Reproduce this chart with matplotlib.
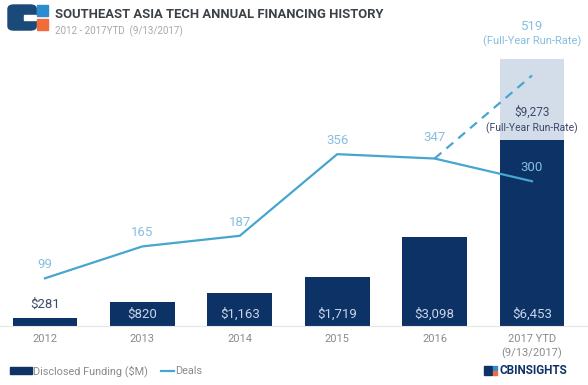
import matplotlib.pyplot as plt
from matplotlib.patches import Rectangle, FancyBboxPatch
from matplotlib.lines import Line2D

plt.rcParams['font.family'] = ['Roboto', 'DejaVu Sans']

years = ['2012', '2013', '2014', '2015', '2016', '2017 YTD\n(9/13/2017)']
funding = [281, 820, 1163, 1719, 3098, 6453]
funding_labels = ['$281', '$820', '$1,163', '$1,719', '$3,098', '$6,453']
deals = [99, 165, 187, 356, 347, 300]
runrate_funding = 9273
runrate_deals = 519

navy = '#0c3266'
light_bar = '#d3dde9'
line_col = '#46a6cf'
deal_txt = '#86bfe0'
tick_col = '#8a8a8a'

fig = plt.figure(figsize=(5.88, 3.85), dpi=100)
ax = fig.add_axes([0, 0.153, 1, 0.730])
ax2 = ax.twinx()

x = list(range(len(years)))
ax.bar(5, runrate_funding, width=0.667, color=light_bar, zorder=1)
ax.bar(x, funding, width=0.667, color=navy, zorder=2)
ax.set_xlim(-0.462, 5.575)
ax.set_ylim(0, 9750)
ax2.set_ylim(0, 582)

for i, (v, lab) in enumerate(zip(funding, funding_labels)):
    if v < 500:
        ax.text(i, v + 250, lab, ha='center', va='bottom', fontsize=9.5, color='#3b4a6b')
    else:
        ax.text(i, 180, lab, ha='center', va='bottom', fontsize=9.5, color='#c9d5e5')
ax.text(5, 7200, '$9,273', ha='center', va='bottom', fontsize=8.5, color='#3b4a6b')
ax.text(5, 6650, '(Full-Year Run-Rate)', ha='center', va='bottom', fontsize=7.5, color='#3b4a6b')

ax2.plot(x, deals, color=line_col, lw=1.6, zorder=3)
ax2.plot([4, 5], [deals[4], runrate_deals], color=line_col, lw=1.6, ls=(0, (4, 3)), zorder=3)
for i, d in enumerate(deals):
    off = 44 if i == 4 else 28
    ax2.text(i, d + off, str(d), ha='center', va='center', fontsize=9.5, color=deal_txt)
ax2.text(5, runrate_deals + 102, str(runrate_deals), ha='center', va='center', fontsize=9.5, color=deal_txt)
ax2.text(5, runrate_deals + 70, '(Full-Year Run-Rate)', ha='center', va='center', fontsize=8, color=deal_txt)

for a in (ax, ax2):
    for s in a.spines.values():
        s.set_visible(False)
    a.set_yticks([])
ax.spines['bottom'].set_visible(True)
ax.spines['bottom'].set_color('#e6e6e6')
ax.set_xticks(x)
ax.set_xticklabels(years, fontsize=8, color=tick_col, linespacing=1.3)
ax.tick_params(axis='x', length=0, pad=6)

# header
fig.text(0.094, 0.963, 'SOUTHEAST ASIA TECH ANNUAL FINANCING HISTORY', fontsize=9.4,
         fontweight='bold', color='#3c4146', va='center')
fig.text(0.094, 0.918, '2012 - 2017YTD  (9/13/2017)', fontsize=7, color='#a8a8a8', va='center')
fig.patches.append(FancyBboxPatch((0.0136, 0.922), 0.048, 0.065, boxstyle='round,pad=0,rounding_size=0.01',
                                  transform=fig.transFigure, color='#1a4a7a'))
fig.patches.append(Rectangle((0.040, 0.948), 0.022, 0.013, transform=fig.transFigure, color='white'))
fig.patches.append(Rectangle((0.063, 0.958), 0.019, 0.029, transform=fig.transFigure, color='#2b8ccf'))
fig.patches.append(Rectangle((0.063, 0.922), 0.019, 0.029, transform=fig.transFigure, color='#f26b3a'))

# legend
fig.patches.append(Rectangle((0.017, 0.028), 0.037, 0.02, transform=fig.transFigure, color=navy))
fig.text(0.056, 0.037, 'Disclosed Funding ($M)', fontsize=7.8, color=tick_col, va='center')
fig.lines.append(Line2D([0.274, 0.296], [0.037, 0.037], transform=fig.transFigure, color=line_col, lw=1.6))
fig.text(0.298, 0.037, 'Deals', fontsize=7.8, color=tick_col, va='center')

# brand
fig.patches.append(Rectangle((0.823, 0.026), 0.013, 0.024, transform=fig.transFigure, color=navy))
fig.patches.append(Rectangle((0.838, 0.039), 0.007, 0.011, transform=fig.transFigure, color='#2b8ccf'))
fig.patches.append(Rectangle((0.838, 0.026), 0.007, 0.011, transform=fig.transFigure, color='#f26b3a'))
fig.text(0.849, 0.038, 'CBINSIGHTS', fontsize=8.5, fontweight='bold', color=navy, va='center')

fig.savefig('out.png', dpi=100)
